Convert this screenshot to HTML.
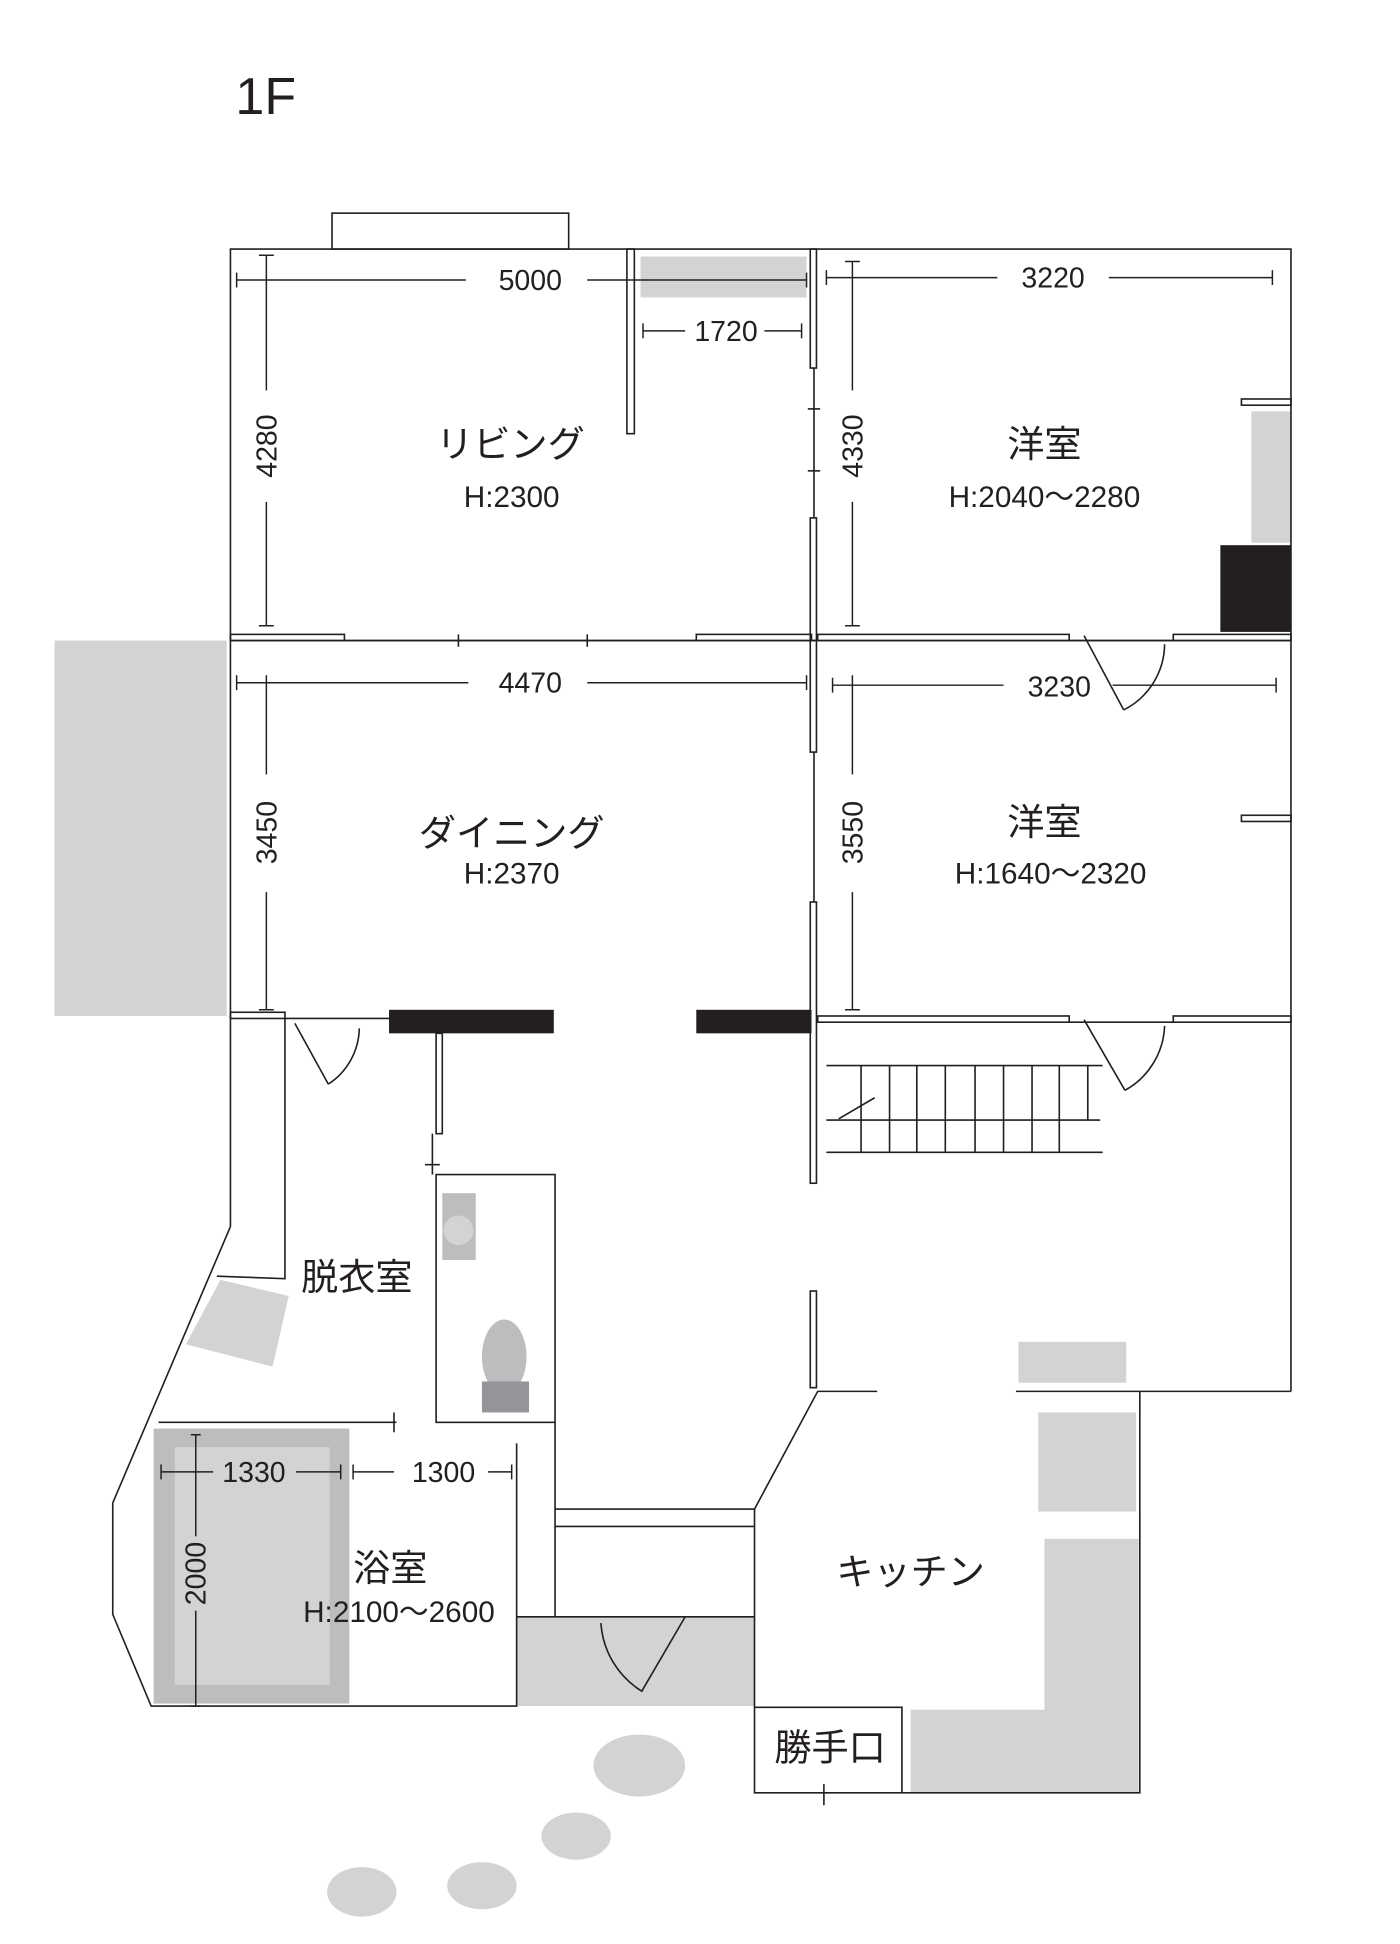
<!DOCTYPE html>
<html><head><meta charset="utf-8"><style>
html,body{margin:0;padding:0;background:#fff}
svg{display:block}
text{font-family:"Liberation Sans","Noto Sans CJK JP",sans-serif;fill:#231f20}
</style></head><body>
<svg width="1400" height="1944" viewBox="0 0 1130 1569" xmlns="http://www.w3.org/2000/svg">
<g fill="#d2d3d5" stroke="none">
<rect x="44" y="517" width="139" height="303"/>
<rect x="517" y="207" width="134" height="33"/>
<rect x="1010" y="332" width="32" height="106"/>
<polygon points="178,1033 233,1046 220,1103 150,1085"/>
<rect x="417" y="1305" width="192" height="72"/>
<rect x="822" y="1083" width="87" height="33"/>
<rect x="838" y="1140" width="79" height="80"/>
<polygon points="843,1242 919,1242 919,1447 735,1447 735,1380 843,1380"/>
<ellipse cx="516" cy="1425" rx="37" ry="25"/>
<ellipse cx="465" cy="1482" rx="28" ry="19"/>
<ellipse cx="389" cy="1522" rx="28" ry="19"/>
<ellipse cx="292" cy="1527" rx="28" ry="20"/>
</g>
<rect x="124" y="1153" width="158" height="222" fill="#bcbdbf"/>
<rect x="141" y="1168" width="125" height="192" fill="#d2d3d5"/>
<rect x="357" y="963" width="27" height="54" fill="#bcbdbf"/>
<circle cx="370" cy="993" r="12" fill="#d2d3d5"/>
<ellipse cx="407" cy="1095" rx="18" ry="30" fill="#bcbdbf"/>
<rect x="389" y="1115" width="38" height="25" fill="#939598"/>
<g fill="#231f20">
<rect x="985" y="440" width="57" height="70"/>
<rect x="314" y="815" width="133" height="19"/>
<rect x="562" y="815" width="93" height="19"/>
</g>
<g fill="none" stroke="#231f20" stroke-width="1.3">
<rect x="268" y="172" width="191" height="29"/>
<polyline points="186,990 186,201 1042,201 1042,1123"/>
<polyline points="186,990 91,1213 91,1303 122,1377 417,1377 417,1165"/>
<line x1="448" y1="1148" x2="448" y2="1305"/>
<rect x="186" y="512" width="92" height="5"/>
<line x1="278" y1="517" x2="562" y2="517"/>
<line x1="370" y1="512" x2="370" y2="522"/><line x1="474" y1="512" x2="474" y2="522"/>
<rect x="562" y="512" width="93" height="5"/>
<rect x="660" y="512" width="203" height="5"/>
<rect x="947" y="512" width="95" height="5"/>
<line x1="863" y1="517" x2="947" y2="517"/>
<line x1="186" y1="517" x2="1042" y2="517"/>
<path d="M875,513 L907,573 M907,573 A60,60 0 0 0 940,520"/>
<rect x="654" y="201" width="5" height="96"/>
<line x1="657" y1="297" x2="657" y2="418"/>
<line x1="652" y1="330" x2="662" y2="330"/><line x1="652" y1="380" x2="662" y2="380"/>
<rect x="654" y="418" width="5" height="99"/>
<rect x="654" y="517" width="5" height="90"/>
<line x1="657" y1="607" x2="657" y2="728"/>
<rect x="654" y="728" width="5" height="227"/>
<rect x="506" y="201" width="6" height="149"/>
<rect x="1002" y="322" width="40" height="5"/>
<rect x="1002" y="658" width="40" height="5"/>
<rect x="186" y="817" width="44" height="5"/>
<line x1="230" y1="822" x2="314" y2="822"/>
<path d="M238,826 L265,875 M265,875 A55,55 0 0 0 290,830"/>
<rect x="660" y="820" width="203" height="5"/>
<line x1="863" y1="825" x2="947" y2="825"/>
<rect x="947" y="820" width="95" height="5"/>
<path d="M875,823 L908,880 M908,880 A62,62 0 0 0 940,828"/>
<polyline points="230,822 230,1032 175,1030"/>
<rect x="352" y="834" width="5" height="81"/>
<line x1="349" y1="915" x2="349" y2="948"/><line x1="343" y1="940" x2="355" y2="940"/>
<rect x="352" y="948" width="96" height="200"/>
<line x1="128" y1="1148" x2="320" y2="1148"/><line x1="318" y1="1140" x2="318" y2="1156"/>
<line x1="448" y1="1218" x2="609" y2="1218"/><line x1="448" y1="1232" x2="609" y2="1232"/>
<line x1="417" y1="1305" x2="609" y2="1305"/>
<path d="M485,1310 A70,70 0 0 0 518,1365 L553,1305"/>
<rect x="654" y="1042" width="5" height="78"/>
<polyline points="708,1123 660,1123 609,1218 609,1447 920,1447 920,1123"/>
<line x1="820" y1="1123" x2="1042" y2="1123"/>
<polyline points="609,1378 728,1378 728,1447"/>
<line x1="665" y1="1440" x2="665" y2="1457"/>
<line x1="667" y1="860" x2="890" y2="860"/><line x1="667" y1="904" x2="888" y2="904"/><line x1="667" y1="930" x2="890" y2="930"/>
<g><line x1="695" y1="860" x2="695" y2="930"/><line x1="718" y1="860" x2="718" y2="930"/><line x1="740" y1="860" x2="740" y2="930"/><line x1="763" y1="860" x2="763" y2="930"/><line x1="787" y1="860" x2="787" y2="930"/><line x1="810" y1="860" x2="810" y2="930"/><line x1="833" y1="860" x2="833" y2="930"/><line x1="855" y1="860" x2="855" y2="930"/><line x1="878" y1="860" x2="878" y2="904"/></g>
<line x1="677" y1="903" x2="706" y2="886"/>
</g>
<g stroke="#231f20" stroke-width="1.2" fill="none">
<path d="M191,226 H376 M474,226 H651 M191,220 V232 M651,220 V232"/>
<path d="M519,267 H553 M617,267 H647 M519,261 V273 M647,261 V273"/>
<path d="M667,224 H805 M895,224 H1027 M667,218 V230 M1027,218 V230"/>
<path d="M191,551 H378 M474,551 H651 M191,545 V557 M651,545 V557"/>
<path d="M672,553 H810 M898,553 H1030 M672,547 V559 M1030,547 V559"/>
<path d="M215,206 V315 M215,405 V505 M209,206 H221 M209,505 H221"/>
<path d="M688,211 V315 M688,405 V505 M682,211 H694 M682,505 H694"/>
<path d="M215,545 V625 M215,720 V815 M209,815 H221"/>
<path d="M688,545 V625 M688,720 V815 M682,815 H694"/>
<path d="M130,1188 H172 M239,1188 H275 M130,1182 V1194 M275,1182 V1194"/>
<path d="M285,1188 H318 M394,1188 H413 M285,1182 V1194 M413,1182 V1194"/>
<path d="M158,1158 V1240 M158,1300 V1377 M154,1158 H162 M154,1377 H162"/>
</g>
<g font-size="23" text-anchor="middle">
<text x="428" y="234">5000</text>
<text x="586" y="275">1720</text>
<text x="850" y="232">3220</text>
<text x="428" y="559">4470</text>
<text x="855" y="562">3230</text>
<text x="205" y="1196">1330</text>
<text x="358" y="1196">1300</text>
<text transform="translate(223,360) rotate(-90)">4280</text>
<text transform="translate(696,360) rotate(-90)">4330</text>
<text transform="translate(223,672) rotate(-90)">3450</text>
<text transform="translate(696,672) rotate(-90)">3550</text>
<text transform="translate(166,1270) rotate(-90)">2000</text>
</g>
<text x="190" y="92" font-size="42">1F</text>
<g text-anchor="middle">
<text x="412" y="369" font-size="30">リビング</text>
<text x="413" y="409" font-size="24">H:2300</text>
<text x="843" y="369" font-size="30">洋室</text>
<text x="843" y="409" font-size="24">H:2040〜2280</text>
<text x="413" y="683" font-size="30">ダイニング</text>
<text x="413" y="713" font-size="24">H:2370</text>
<text x="843" y="674" font-size="30">洋室</text>
<text x="848" y="713" font-size="24">H:1640〜2320</text>
<text x="288" y="1041" font-size="30">脱衣室</text>
<text x="315" y="1276" font-size="30">浴室</text>
<text x="322" y="1309" font-size="24">H:2100〜2600</text>
<text x="735" y="1279" font-size="30">キッチン</text>
<text x="670" y="1421" font-size="30">勝手口</text>
</g>
</svg>
</body></html>
